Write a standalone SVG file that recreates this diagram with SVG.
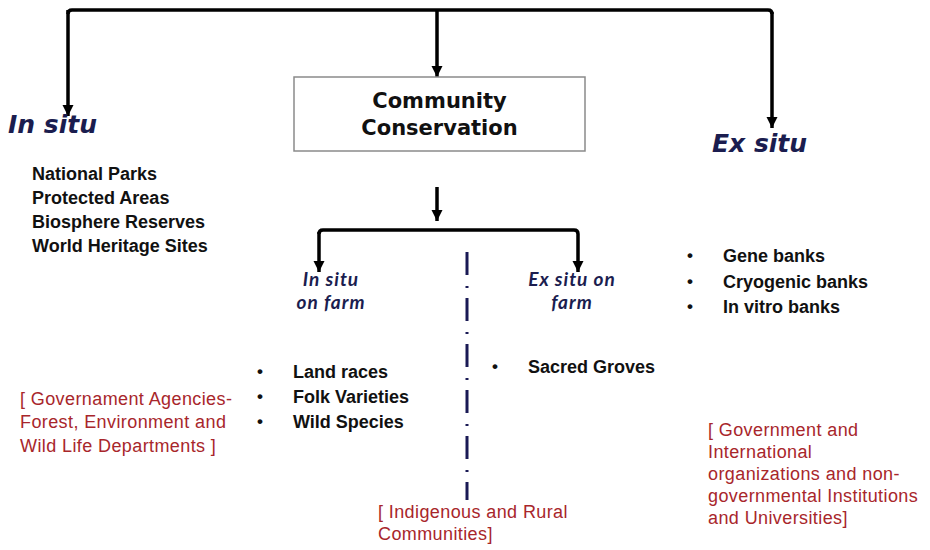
<svg xmlns="http://www.w3.org/2000/svg" width="930" height="550" viewBox="0 0 930 550">
<style>
.conn{fill:none;stroke:#000;stroke-width:3.5;stroke-linejoin:round}
.dash{fill:none;stroke:#1a1a55;stroke-width:3;stroke-dasharray:23 11 2 10}
.box{fill:#fff;stroke:#8a8a8a;stroke-width:1.5}
.title{font-family:"DejaVu Sans",Verdana,sans-serif;font-weight:bold;font-size:21px;fill:#111;text-anchor:middle}
.big{font-family:"DejaVu Sans",Verdana,sans-serif;font-weight:bold;font-style:italic;font-size:25px;fill:#1b1d4f}
.sub{font-family:Lato,"Open Sans",sans-serif;font-style:italic;font-weight:bold;font-size:19px;letter-spacing:1px;fill:#1b1d4f;text-anchor:middle}
.item{font-family:"Liberation Sans",Arial,sans-serif;font-weight:bold;font-size:18px;fill:#111}
.dot{font-family:"Liberation Sans",Arial,sans-serif;font-weight:bold;font-size:17px;fill:#111}
.red{font-family:"Liberation Sans",Arial,sans-serif;font-size:18px;letter-spacing:0.4px;fill:#a8262b}
</style>
<defs>
<marker id="ah" viewBox="0 0 10 10" refX="10" refY="5" markerWidth="3.2" markerHeight="3.4" markerUnits="strokeWidth" orient="auto">
<path d="M0,0 L10,5 L0,10 z" fill="#000"/>
</marker>
</defs>
<g id="connectors">
<path class="conn" marker-end="url(#ah)" d="M68,10 V116"/>
<path class="conn" d="M68,14 Q68,10 72,10 H768 Q772,10 772,14"/>
<path class="conn" marker-end="url(#ah)" d="M772,12 V128"/>
<path class="conn" marker-end="url(#ah)" d="M437,10 V77"/>
<path class="conn" marker-end="url(#ah)" d="M437,187 V221"/>
<path class="conn" marker-end="url(#ah)" d="M319,234 Q319,230 323,230 H574 Q578,230 578,234 V272"/>
<path class="conn" marker-end="url(#ah)" d="M319,232 V272"/>
<path class="dash" d="M467,252 V500"/>
</g>
<g id="community">
<rect class="box" x="294" y="77" width="291" height="74"/>
<text class="title" x="439.5" y="108">Community</text>
<text class="title" x="439.5" y="135">Conservation</text>
</g>
<g id="insitu">
<text class="big" x="8" y="133">In situ</text>
<text class="item" x="32" y="180">National Parks</text>
<text class="item" x="32" y="204">Protected Areas</text>
<text class="item" x="32" y="228">Biosphere Reserves</text>
<text class="item" x="32" y="252">World Heritage Sites</text>
</g>
<g id="exsitu">
<text class="big" x="712" y="152">Ex situ</text>
<text class="dot" x="687" y="261">•</text>
<text class="item" x="723" y="262">Gene banks</text>
<text class="dot" x="687" y="287">•</text>
<text class="item" x="723" y="288">Cryogenic banks</text>
<text class="dot" x="687" y="312">•</text>
<text class="item" x="723" y="313">In vitro banks</text>
</g>
<g id="insitu-farm">
<text class="sub" x="331" y="286">In situ</text>
<text class="sub" x="331" y="309">on farm</text>
<text class="dot" x="257" y="377">•</text>
<text class="item" x="293" y="378">Land races</text>
<text class="dot" x="257" y="402">•</text>
<text class="item" x="293" y="403">Folk Varieties</text>
<text class="dot" x="257" y="427">•</text>
<text class="item" x="293" y="428">Wild Species</text>
</g>
<g id="exsitu-farm">
<text class="sub" x="572" y="286">Ex situ on</text>
<text class="sub" x="572" y="309">farm</text>
<text class="dot" x="492" y="372">•</text>
<text class="item" x="528" y="373">Sacred Groves</text>
</g>
<g id="agencies-left">
<text class="red" x="20" y="405">[ Governament Agencies-</text>
<text class="red" x="20" y="428">Forest, Environment and</text>
<text class="red" x="20" y="452">Wild Life Departments ]</text>
</g>
<g id="agencies-bottom">
<text class="red" x="378" y="518">[ Indigenous and Rural</text>
<text class="red" x="378" y="540">Communities]</text>
</g>
<g id="agencies-right">
<text class="red" x="708" y="436">[ Government and</text>
<text class="red" x="708" y="458">International</text>
<text class="red" x="708" y="480">organizations and non-</text>
<text class="red" x="708" y="502">governmental Institutions</text>
<text class="red" x="708" y="524">and Universities]</text>
</g>
</svg>
